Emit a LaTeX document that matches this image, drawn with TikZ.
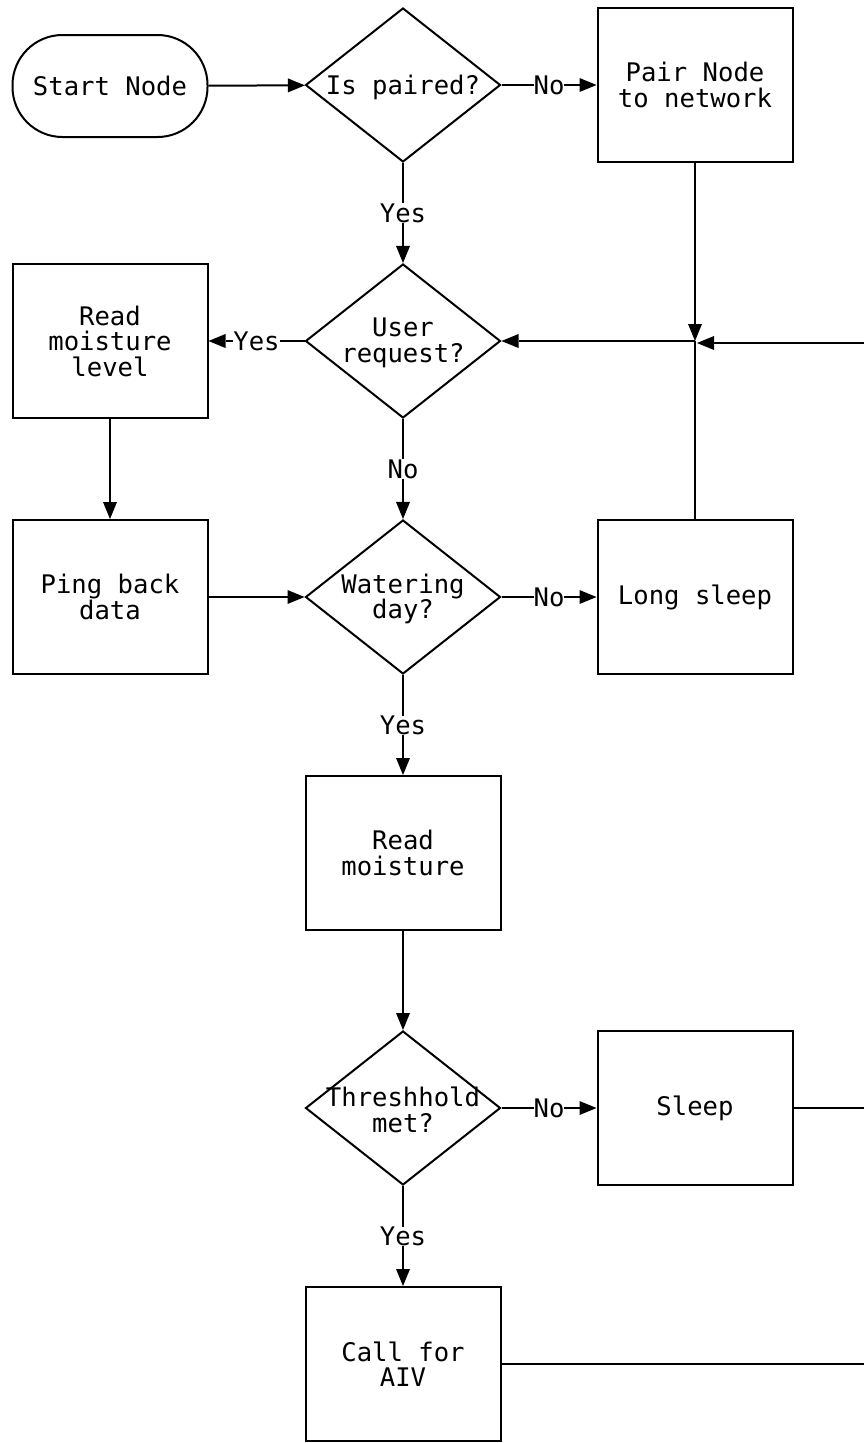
\documentclass[tikz,border=0pt]{standalone}
\usepackage{fontspec}
\setmonofont{DejaVu Sans Mono}
\usetikzlibrary{shapes.geometric,arrows.meta}
\begin{document}
\begin{tikzpicture}[x=1pt,y=-1pt,
  every node/.style={font=\ttfamily\fontsize{25.6}{25.5}\selectfont, align=center, inner sep=0pt},
  base/.style={draw, line width=2pt},
  procbox/.style={base, rectangle, minimum width=195pt, minimum height=154pt},
  startbox/.style={base, rectangle, rounded corners=50pt, minimum width=195pt, minimum height=102pt},
  decision/.style={base, diamond, aspect=1.27, minimum width=195pt, minimum height=154pt},
  dtext/.style={align=center, yshift=-2pt},
  conn/.style={line width=2pt},
  arr/.style={conn, -{Triangle[length=17pt,width=14pt,line width=0pt]}},
  lbl/.style={fill=white, inner sep=0pt}
]
\useasboundingbox (0,0) rectangle (864,1443);

% nodes
\node[startbox] (start) at (110,86) {Start Node};
\node[decision, label={[dtext]center:Is paired?}] (paired) at (403,85) {};
\node[procbox] (pair) at (695,85) {Pair Node\\to network};
\node[decision, label={[dtext]center:User\\request?}] (req) at (403,341) {};
\node[procbox] (rml) at (110,341) {Read\\moisture\\level};
\node[decision, label={[dtext]center:Watering\\day?}] (water) at (403,597) {};
\node[procbox] (ping) at (110,597) {Ping back\\data};
\node[procbox] (longsleep) at (695,597) {Long sleep};
\node[procbox] (rm) at (403,853) {Read\\moisture};
\node[decision, label={[dtext]center:Threshhold\\met?}] (thr) at (403,1108) {};
\node[procbox] (sleep) at (695,1108) {Sleep};
\node[procbox] (aiv) at (403,1364) {Call for\\AIV};

% junction and return lines at the right edge
\coordinate (J) at (695,341);
\coordinate (Jr) at (697,343);
\coordinate (R1) at (864,343);
\coordinate (R2) at (864,1108);
\coordinate (R3) at (864,1364);

% connectors
\draw[arr] (start) -- (paired);
\draw[arr] (paired) -- node[lbl]{No} (pair);
\draw[arr] (paired) -- node[lbl]{Yes} (req);
\draw[arr] (pair) -- (J);
\draw[arr] (R1) -- (Jr);
\draw[arr] (J) -- (req);
\draw[conn] (longsleep) -- (J);
\draw[arr] (req) -- node[lbl]{Yes} (rml);
\draw[arr] (req) -- node[lbl]{No} (water);
\draw[arr] (rml) -- (ping);
\draw[arr] (ping) -- (water);
\draw[arr] (water) -- node[lbl]{No} (longsleep);
\draw[arr] (water) -- node[lbl]{Yes} (rm);
\draw[arr] (rm) -- (thr);
\draw[arr] (thr) -- node[lbl]{No} (sleep);
\draw[arr] (thr) -- node[lbl]{Yes} (aiv);
\draw[conn] (sleep) -- (R2);
\draw[conn] (aiv) -- (R3);
\end{tikzpicture}
\end{document}
